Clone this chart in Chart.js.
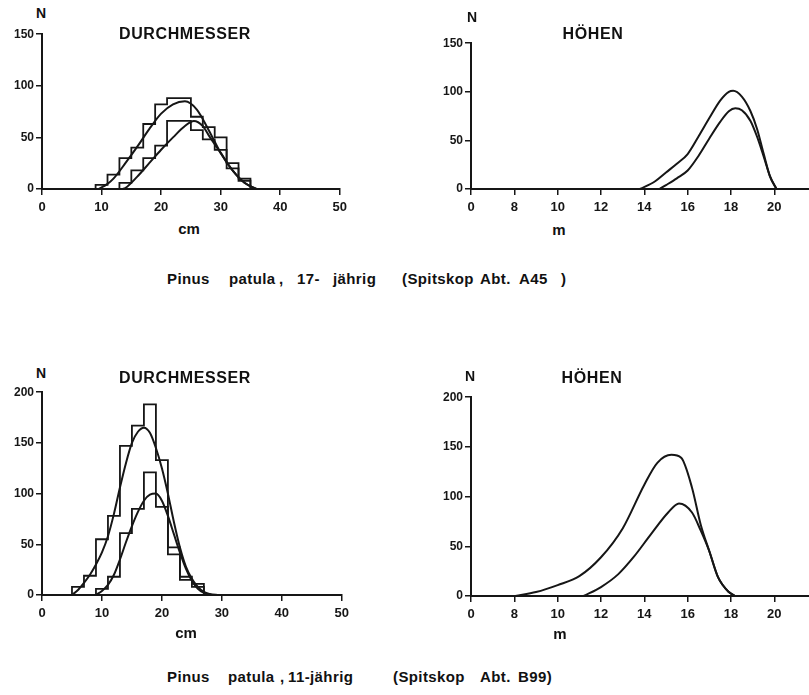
<!DOCTYPE html>
<html>
<head>
<meta charset="utf-8">
<script src="https://cdn.jsdelivr.net/npm/chart.js@4.4.1/dist/chart.umd.min.js"></script>
<style>
  body { margin: 0; background: #fff; }
  #page { position: relative; width: 809px; height: 695px; overflow: hidden;
          font-family: "Liberation Sans", Arial, sans-serif; color: #111; }
  .box { position: absolute; }
  .txt { position: absolute; transform: translate(-50%, -50%); white-space: pre; }
  .word { position: absolute; transform: translateY(-50%); white-space: pre; font-size: 15px;
          font-weight: bold; letter-spacing: 0.4px; }
  .title { font-weight: bold; font-size: 16px; letter-spacing: 0.6px; }
  .n { font-weight: bold; font-size: 14px; }
  .unit { font-size: 15px; font-weight: bold; }
</style>
</head>
<body>
<div id="page">
  <div class="box" style="left:0;top:25px;width:352px;height:194px"><canvas id="c1"></canvas></div>
  <div class="box" style="left:429px;top:34px;width:380px;height:185px"><canvas id="c2"></canvas></div>
  <div class="box" style="left:0;top:383px;width:354px;height:242px"><canvas id="c3"></canvas></div>
  <div class="box" style="left:429px;top:388px;width:380px;height:238px"><canvas id="c4"></canvas></div>

  <div class="txt n" style="left:41px;top:13px">N</div>
  <div class="txt title" style="left:185px;top:34px">DURCHMESSER</div>
  <div class="txt n" style="left:472px;top:17px">N</div>
  <div class="txt title" style="left:593px;top:34px">HÖHEN</div>
  <div class="txt unit" style="left:189px;top:228px">cm</div>
  <div class="txt unit" style="left:559px;top:229px">m</div>

  <div class="txt n" style="left:41px;top:373px">N</div>
  <div class="txt title" style="left:185px;top:378px">DURCHMESSER</div>
  <div class="txt n" style="left:470px;top:376px">N</div>
  <div class="txt title" style="left:592px;top:378px">HÖHEN</div>
  <div class="txt unit" style="left:186px;top:632px">cm</div>
  <div class="txt unit" style="left:560px;top:633px">m</div>
  <div id="captions"></div>
</div>

<script>
// Pinus patula, Spitskop: Durchmesser- und Höhenverteilungen

// --- Abt. A45 (17-jährig) ---
// diameter histograms, 2-cm classes (class centres in cm)
const a45DiamCentresA = [10, 12, 14, 16, 18, 20, 22, 24, 26, 28, 30, 32, 34];
const a45DiamCountsA  = [4, 14, 30, 40, 63, 82, 88, 88, 70, 60, 50, 25, 10];
const a45DiamCentresB = [14, 16, 18, 20, 22, 24, 26, 28, 30, 32, 34];
const a45DiamCountsB  = [6, 18, 30, 42, 66, 66, 57, 48, 38, 20, 8];
// fitted curves
const a45DiamCurveAx = [9.5, 11, 12, 14, 16, 18, 20, 22, 24, 26, 28, 30, 32, 34, 36];
const a45DiamCurveAy = [0, 5, 10, 25, 41, 58, 73, 82, 85, 77, 57, 35, 18, 6, 0];
const a45DiamCurveBx = [13.5, 14, 16, 18, 20, 22, 24, 25.5, 27, 28, 30, 32, 34, 36];
const a45DiamCurveBy = [0, 1, 12, 25, 38, 50, 61, 66, 61, 52, 35, 18, 6, 0];
// height curves (m)
const a45HeightCurveAx = [13.8, 14.5, 15, 15.5, 16, 16.5, 17, 17.5, 17.9, 18.1, 18.5, 18.9, 19.2, 19.5, 19.8, 20.1];
const a45HeightCurveAy = [0, 8, 17, 26, 36, 54, 73, 91, 100, 101, 95, 80, 62, 37, 13, 0];
const a45HeightCurveBx = [14.7, 15, 15.5, 16, 16.5, 17, 17.5, 17.9, 18.2, 18.5, 18.9, 19.2, 19.5, 19.8, 20.1];
const a45HeightCurveBy = [0, 4, 11, 19, 34, 52, 69, 80, 83, 81, 70, 54, 34, 13, 0];

// --- Abt. B99 (11-jährig) ---
const b99DiamCentresA = [6, 8, 10, 12, 14, 16, 18, 20, 22, 24, 26];
const b99DiamCountsA  = [8, 19, 55, 78, 147, 167, 188, 133, 47, 18, 11];
const b99DiamCentresB = [10, 12, 14, 16, 18, 20, 22, 24, 26];
const b99DiamCountsB  = [6, 18, 61, 85, 121, 87, 40, 15, 8];
const b99DiamCurveAx = [5, 6, 7, 8, 9, 10, 11, 12, 13, 14, 15, 16, 17, 18, 19, 20, 21, 22, 23, 24, 25, 26, 27, 28, 29.5];
const b99DiamCurveAy = [0, 5, 12, 20, 30, 42, 58, 80, 106, 130, 150, 161, 165, 160, 145, 125, 100, 72, 47, 28, 16, 8, 3, 1, 0];
const b99DiamCurveBx = [9, 10, 11, 12, 13, 14, 15, 16, 17, 18, 19, 20, 21, 22, 23, 24, 25, 26, 27, 28];
const b99DiamCurveBy = [0, 4, 10, 20, 35, 52, 68, 82, 93, 99, 100, 93, 78, 60, 42, 26, 14, 6, 2, 0];
const b99HeightCurveAx = [8.05, 9, 10, 11, 12, 13, 14, 14.6, 15.25, 15.7, 16.2, 16.6, 17, 17.4, 17.9, 18.2];
const b99HeightCurveAy = [0, 4, 11, 20, 39, 68, 112, 134, 142, 139, 109, 72, 45, 19, 4, 0];
const b99HeightCurveBx = [11.2, 12, 12.8, 13.5, 14.3, 15.1, 15.6, 16.2, 16.6, 17, 17.4, 17.9, 18.2];
const b99HeightCurveBy = [0, 9, 22, 39, 62, 84, 93, 84, 66, 45, 19, 4, 0];

// axis ticks; the height axis is broken, its first tick (6 m) is labelled 0
const diamTicks = [0, 10, 20, 30, 40, 50];
const heightTickValues = [6, 8, 10, 12, 14, 16, 18, 20];
const heightTickLabels = ['0', '8', '10', '12', '14', '16', '18', '20'];
const a45CountTicks = [0, 50, 100, 150];
const b99CountTicks = [0, 50, 100, 150, 200];

const INK = '#161616';
const CLASS_WIDTH = 2;

function histPoints(centres, counts) {
    const half = CLASS_WIDTH / 2;
    const pts = [{ x: centres[0] - half, y: 0 }];
    centres.forEach((c, i) => pts.push({ x: c - half, y: counts[i] }));
    pts.push({ x: centres[centres.length - 1] + half, y: 0 });
    return pts;
}

function curvePoints(xs, ys) {
    return xs.map((x, i) => ({ x: x, y: ys[i] }));
}

function histSet(pts) {
    return { data: pts, stepped: 'before', borderColor: INK, borderWidth: 1.8, pointRadius: 0, fill: false };
}

function curveSet(pts) {
    return { data: pts, borderColor: INK, borderWidth: 2, pointRadius: 0, fill: false,
             tension: 0.4, cubicInterpolationMode: 'monotone' };
}

function axisStyle() {
    return {
        grid: { display: true, drawOnChartArea: false, drawTicks: true, tickLength: 6, color: INK, lineWidth: 1.5 },
        border: { display: true, color: INK, width: 2 }
    };
}

function makeChart(id, datasets, xScale, yTicks, padRight) {
    const x = Object.assign({ type: 'linear' }, axisStyle(), xScale);
    x.ticks = Object.assign({ color: INK, padding: 5, font: { family: 'Liberation Sans', size: 13, weight: 'bold' } }, xScale.ticks);
    x.afterFit = s => { s.height = 30; };

    const y = Object.assign({ type: 'linear', min: 0, max: yTicks[yTicks.length - 1] }, axisStyle());
    y.ticks = { color: INK, padding: 2, font: { family: 'Liberation Sans', size: 12, weight: 'bold' } };
    y.afterBuildTicks = s => { s.ticks = yTicks.map(v => ({ value: v })); };
    y.afterFit = s => { s.width = 42; };

    return new Chart(document.getElementById(id), {
        type: 'line',
        data: { datasets: datasets },
        options: {
            responsive: true,
            maintainAspectRatio: false,
            animation: false,
            layout: { padding: { top: 8, right: padRight, bottom: 0, left: 0 } },
            plugins: { legend: { display: false }, tooltip: { enabled: false } },
            scales: { x: x, y: y }
        }
    });
}

const diamScale = {
    min: 0, max: 50,
    afterBuildTicks: s => { s.ticks = diamTicks.map(v => ({ value: v })); },
    ticks: {}
};
const heightScale = {
    min: 6, max: 21.6,
    afterBuildTicks: s => { s.ticks = heightTickValues.map(v => ({ value: v })); },
    ticks: { callback: v => heightTickLabels[heightTickValues.indexOf(v)] }
};

makeChart('c1', [
    histSet(histPoints(a45DiamCentresA, a45DiamCountsA)),
    histSet(histPoints(a45DiamCentresB, a45DiamCountsB)),
    curveSet(curvePoints(a45DiamCurveAx, a45DiamCurveAy)),
    curveSet(curvePoints(a45DiamCurveBx, a45DiamCurveBy))
], diamScale, a45CountTicks, 12);

makeChart('c2', [
    curveSet(curvePoints(a45HeightCurveAx, a45HeightCurveAy)),
    curveSet(curvePoints(a45HeightCurveBx, a45HeightCurveBy))
], heightScale, a45CountTicks, 0);

makeChart('c3', [
    histSet(histPoints(b99DiamCentresA, b99DiamCountsA)),
    histSet(histPoints(b99DiamCentresB, b99DiamCountsB)),
    curveSet(curvePoints(b99DiamCurveAx, b99DiamCurveAy)),
    curveSet(curvePoints(b99DiamCurveBx, b99DiamCurveBy))
], diamScale, b99CountTicks, 12);

makeChart('c4', [
    curveSet(curvePoints(b99HeightCurveAx, b99HeightCurveAy)),
    curveSet(curvePoints(b99HeightCurveBx, b99HeightCurveBy))
], heightScale, b99CountTicks, 0);

// captions, word by word as spaced in the original print
const captionA45 = [['Pinus', 167], ['patula', 229], [',', 279], ['17-', 297], ['jährig', 333],
                    ['(Spitskop', 402], ['Abt.', 480], ['A45', 519], [')', 561]];
const captionB99 = [['Pinus', 167], ['patula', 228], [',', 280], ['11-jährig', 288],
                    ['(Spitskop', 393], ['Abt.', 480], ['B99)', 518]];

function placeCaption(words, top) {
    const holder = document.getElementById('captions');
    words.forEach(([text, left]) => {
        const el = document.createElement('div');
        el.className = 'word';
        el.style.left = left + 'px';
        el.style.top = top + 'px';
        el.textContent = text;
        holder.appendChild(el);
    });
}
placeCaption(captionA45, 278);
placeCaption(captionB99, 676);
</script>
</body>
</html>
